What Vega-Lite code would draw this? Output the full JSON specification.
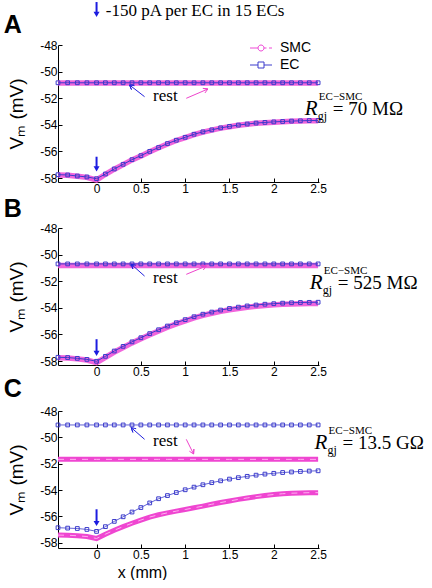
{
 "$schema": "https://vega.github.io/schema/vega-lite/v6.json",
 "padding": {"left": 3, "top": 1, "right": 0, "bottom": 0},
 "background": "white",
 "datasets": {
  "curves": [
   {"p":"A","x":-0.435,"ec":-57.75,"smc":-57.77,"ecr":-50.84,"smcr":-50.86},
   {"p":"A","x":-0.326,"ec":-57.77,"smc":-57.79,"ecr":-50.84,"smcr":-50.86},
   {"p":"A","x":-0.217,"ec":-57.85,"smc":-57.87,"ecr":-50.84,"smcr":-50.86},
   {"p":"A","x":-0.109,"ec":-57.92,"smc":-57.95,"ecr":-50.84,"smcr":-50.86},
   {"p":"A","x":0,"ec":-58.05,"smc":-58.15,"ecr":-50.84,"smcr":-50.86},
   {"p":"A","x":0.1,"ec":-57.7,"smc":-57.72,"ecr":-50.84,"smcr":-50.86},
   {"p":"A","x":0.2,"ec":-57.32,"smc":-57.34,"ecr":-50.84,"smcr":-50.86},
   {"p":"A","x":0.3,"ec":-56.97,"smc":-56.99,"ecr":-50.84,"smcr":-50.86},
   {"p":"A","x":0.4,"ec":-56.62,"smc":-56.64,"ecr":-50.84,"smcr":-50.86},
   {"p":"A","x":0.5,"ec":-56.32,"smc":-56.34,"ecr":-50.84,"smcr":-50.86},
   {"p":"A","x":0.6,"ec":-56.0,"smc":-56.02,"ecr":-50.84,"smcr":-50.86},
   {"p":"A","x":0.7,"ec":-55.71,"smc":-55.73,"ecr":-50.84,"smcr":-50.86},
   {"p":"A","x":0.8,"ec":-55.41,"smc":-55.44,"ecr":-50.84,"smcr":-50.86},
   {"p":"A","x":0.9,"ec":-55.16,"smc":-55.18,"ecr":-50.84,"smcr":-50.86},
   {"p":"A","x":1.0,"ec":-54.94,"smc":-54.96,"ecr":-50.84,"smcr":-50.86},
   {"p":"A","x":1.1,"ec":-54.71,"smc":-54.74,"ecr":-50.84,"smcr":-50.86},
   {"p":"A","x":1.2,"ec":-54.53,"smc":-54.55,"ecr":-50.84,"smcr":-50.86},
   {"p":"A","x":1.3,"ec":-54.38,"smc":-54.4,"ecr":-50.84,"smcr":-50.86},
   {"p":"A","x":1.4,"ec":-54.23,"smc":-54.25,"ecr":-50.84,"smcr":-50.86},
   {"p":"A","x":1.5,"ec":-54.12,"smc":-54.14,"ecr":-50.84,"smcr":-50.86},
   {"p":"A","x":1.6,"ec":-54.02,"smc":-54.04,"ecr":-50.84,"smcr":-50.86},
   {"p":"A","x":1.7,"ec":-53.94,"smc":-53.96,"ecr":-50.84,"smcr":-50.86},
   {"p":"A","x":1.8,"ec":-53.87,"smc":-53.89,"ecr":-50.84,"smcr":-50.86},
   {"p":"A","x":1.9,"ec":-53.82,"smc":-53.84,"ecr":-50.84,"smcr":-50.86},
   {"p":"A","x":2.0,"ec":-53.78,"smc":-53.8,"ecr":-50.84,"smcr":-50.86},
   {"p":"A","x":2.1,"ec":-53.75,"smc":-53.77,"ecr":-50.84,"smcr":-50.86},
   {"p":"A","x":2.2,"ec":-53.72,"smc":-53.74,"ecr":-50.84,"smcr":-50.86},
   {"p":"A","x":2.3,"ec":-53.7,"smc":-53.72,"ecr":-50.84,"smcr":-50.86},
   {"p":"A","x":2.4,"ec":-53.68,"smc":-53.7,"ecr":-50.84,"smcr":-50.86},
   {"p":"A","x":2.5,"ec":-53.67,"smc":-53.69,"ecr":-50.84,"smcr":-50.86},
   {"p":"B","x":-0.435,"ec":-57.72,"smc":-57.76,"ecr":-50.7,"smcr":-50.82},
   {"p":"B","x":-0.326,"ec":-57.74,"smc":-57.78,"ecr":-50.7,"smcr":-50.82},
   {"p":"B","x":-0.217,"ec":-57.8,"smc":-57.84,"ecr":-50.7,"smcr":-50.82},
   {"p":"B","x":-0.109,"ec":-57.88,"smc":-57.93,"ecr":-50.7,"smcr":-50.82},
   {"p":"B","x":0,"ec":-58.02,"smc":-58.12,"ecr":-50.7,"smcr":-50.82},
   {"p":"B","x":0.1,"ec":-57.65,"smc":-57.72,"ecr":-50.7,"smcr":-50.82},
   {"p":"B","x":0.2,"ec":-57.25,"smc":-57.33,"ecr":-50.7,"smcr":-50.82},
   {"p":"B","x":0.3,"ec":-56.9,"smc":-56.98,"ecr":-50.7,"smcr":-50.82},
   {"p":"B","x":0.4,"ec":-56.56,"smc":-56.64,"ecr":-50.7,"smcr":-50.82},
   {"p":"B","x":0.5,"ec":-56.25,"smc":-56.33,"ecr":-50.7,"smcr":-50.82},
   {"p":"B","x":0.6,"ec":-55.94,"smc":-56.03,"ecr":-50.7,"smcr":-50.82},
   {"p":"B","x":0.7,"ec":-55.65,"smc":-55.74,"ecr":-50.7,"smcr":-50.82},
   {"p":"B","x":0.8,"ec":-55.37,"smc":-55.46,"ecr":-50.7,"smcr":-50.82},
   {"p":"B","x":0.9,"ec":-55.12,"smc":-55.21,"ecr":-50.7,"smcr":-50.82},
   {"p":"B","x":1.0,"ec":-54.89,"smc":-54.98,"ecr":-50.7,"smcr":-50.82},
   {"p":"B","x":1.1,"ec":-54.67,"smc":-54.76,"ecr":-50.7,"smcr":-50.82},
   {"p":"B","x":1.2,"ec":-54.48,"smc":-54.57,"ecr":-50.7,"smcr":-50.82},
   {"p":"B","x":1.3,"ec":-54.32,"smc":-54.41,"ecr":-50.7,"smcr":-50.82},
   {"p":"B","x":1.4,"ec":-54.17,"smc":-54.27,"ecr":-50.7,"smcr":-50.82},
   {"p":"B","x":1.5,"ec":-54.05,"smc":-54.15,"ecr":-50.7,"smcr":-50.82},
   {"p":"B","x":1.6,"ec":-53.95,"smc":-54.05,"ecr":-50.7,"smcr":-50.82},
   {"p":"B","x":1.7,"ec":-53.86,"smc":-53.96,"ecr":-50.7,"smcr":-50.82},
   {"p":"B","x":1.8,"ec":-53.79,"smc":-53.89,"ecr":-50.7,"smcr":-50.82},
   {"p":"B","x":1.9,"ec":-53.73,"smc":-53.83,"ecr":-50.7,"smcr":-50.82},
   {"p":"B","x":2.0,"ec":-53.69,"smc":-53.78,"ecr":-50.7,"smcr":-50.82},
   {"p":"B","x":2.1,"ec":-53.65,"smc":-53.74,"ecr":-50.7,"smcr":-50.82},
   {"p":"B","x":2.2,"ec":-53.62,"smc":-53.71,"ecr":-50.7,"smcr":-50.82},
   {"p":"B","x":2.3,"ec":-53.6,"smc":-53.69,"ecr":-50.7,"smcr":-50.82},
   {"p":"B","x":2.4,"ec":-53.59,"smc":-53.68,"ecr":-50.7,"smcr":-50.82},
   {"p":"B","x":2.5,"ec":-53.58,"smc":-53.68,"ecr":-50.7,"smcr":-50.82},
   {"p":"C","x":-0.435,"ec":-56.86,"smc":-57.42,"ecr":-49.06,"smcr":-51.67},
   {"p":"C","x":-0.326,"ec":-56.89,"smc":-57.43,"ecr":-49.06,"smcr":-51.67},
   {"p":"C","x":-0.217,"ec":-56.92,"smc":-57.47,"ecr":-49.06,"smcr":-51.67},
   {"p":"C","x":-0.109,"ec":-56.99,"smc":-57.53,"ecr":-49.06,"smcr":-51.67},
   {"p":"C","x":0,"ec":-57.14,"smc":-57.68,"ecr":-49.06,"smcr":-51.67},
   {"p":"C","x":0.1,"ec":-56.78,"smc":-57.35,"ecr":-49.06,"smcr":-51.67},
   {"p":"C","x":0.2,"ec":-56.38,"smc":-57.05,"ecr":-49.06,"smcr":-51.67},
   {"p":"C","x":0.3,"ec":-56.03,"smc":-56.78,"ecr":-49.06,"smcr":-51.67},
   {"p":"C","x":0.4,"ec":-55.67,"smc":-56.52,"ecr":-49.06,"smcr":-51.67},
   {"p":"C","x":0.5,"ec":-55.33,"smc":-56.28,"ecr":-49.06,"smcr":-51.67},
   {"p":"C","x":0.6,"ec":-54.98,"smc":-56.05,"ecr":-49.06,"smcr":-51.67},
   {"p":"C","x":0.7,"ec":-54.66,"smc":-55.88,"ecr":-49.06,"smcr":-51.67},
   {"p":"C","x":0.8,"ec":-54.42,"smc":-55.73,"ecr":-49.06,"smcr":-51.67},
   {"p":"C","x":0.9,"ec":-54.19,"smc":-55.6,"ecr":-49.06,"smcr":-51.67},
   {"p":"C","x":1.0,"ec":-53.98,"smc":-55.48,"ecr":-49.06,"smcr":-51.67},
   {"p":"C","x":1.1,"ec":-53.78,"smc":-55.35,"ecr":-49.06,"smcr":-51.67},
   {"p":"C","x":1.2,"ec":-53.6,"smc":-55.22,"ecr":-49.06,"smcr":-51.67},
   {"p":"C","x":1.3,"ec":-53.44,"smc":-55.08,"ecr":-49.06,"smcr":-51.67},
   {"p":"C","x":1.4,"ec":-53.3,"smc":-54.95,"ecr":-49.06,"smcr":-51.67},
   {"p":"C","x":1.5,"ec":-53.17,"smc":-54.83,"ecr":-49.06,"smcr":-51.67},
   {"p":"C","x":1.6,"ec":-53.06,"smc":-54.71,"ecr":-49.06,"smcr":-51.67},
   {"p":"C","x":1.7,"ec":-52.96,"smc":-54.6,"ecr":-49.06,"smcr":-51.67},
   {"p":"C","x":1.8,"ec":-52.87,"smc":-54.5,"ecr":-49.06,"smcr":-51.67},
   {"p":"C","x":1.9,"ec":-52.79,"smc":-54.41,"ecr":-49.06,"smcr":-51.67},
   {"p":"C","x":2.0,"ec":-52.73,"smc":-54.34,"ecr":-49.06,"smcr":-51.67},
   {"p":"C","x":2.1,"ec":-52.67,"smc":-54.28,"ecr":-49.06,"smcr":-51.67},
   {"p":"C","x":2.2,"ec":-52.63,"smc":-54.24,"ecr":-49.06,"smcr":-51.67},
   {"p":"C","x":2.3,"ec":-52.59,"smc":-54.22,"ecr":-49.06,"smcr":-51.67},
   {"p":"C","x":2.4,"ec":-52.56,"smc":-54.2,"ecr":-49.06,"smcr":-51.67},
   {"p":"C","x":2.5,"ec":-52.54,"smc":-54.2,"ecr":-49.06,"smcr":-51.67}
  ],
  "ann": [
   {"p":"A","k":"letter","x":-1.046,"v":-47.1,"t":"A"},
   {"p":"A","k":"rest","x":0.776,"v":-52.21,"t":"rest"},
   {"p":"A","k":"R","x":2.35,"v":-53.26,"t":"= 70 MΩ"},
   {"p":"A","k":"top","x":0.105,"v":-45.82,"t":"-150 pA per EC in 15 ECs"},
   {"p":"A","k":"stim","x":0,"v":-56.4,"v2":-57.31},
   {"p":"A","k":"head","x":0,"v":-57.31},
   {"p":"A","k":"stim","x":0,"v":-44.77,"v2":-45.7},
   {"p":"A","k":"head","x":0,"v":-45.7},
   {"p":"A","k":"arrEC","o":1,"x":0.5418,"v":-51.887},
   {"p":"A","k":"arrEC","o":2,"x":0.3725,"v":-51.008},
   {"p":"A","k":"arrEC","o":3,"x":0.3939,"v":-51.353},
   {"p":"A","k":"arrEC","o":4,"x":0.3725,"v":-51.008},
   {"p":"A","k":"arrEC","o":5,"x":0.4289,"v":-51.06},
   {"p":"A","k":"arrSMC","o":1,"x":1.0124,"v":-52.008},
   {"p":"A","k":"arrSMC","o":2,"x":1.2562,"v":-51.308},
   {"p":"A","k":"arrSMC","o":3,"x":1.2,"v":-51.263},
   {"p":"A","k":"arrSMC","o":4,"x":1.2562,"v":-51.308},
   {"p":"A","k":"arrSMC","o":5,"x":1.2223,"v":-51.609},
   {"p":"B","k":"letter","x":-1.046,"v":-47.17,"t":"B"},
   {"p":"B","k":"rest","x":0.776,"v":-52.15,"t":"rest"},
   {"p":"B","k":"R","x":2.406,"v":-52.62,"t":"= 525 MΩ"},
   {"p":"B","k":"stim","x":0,"v":-56.36,"v2":-57.43},
   {"p":"B","k":"head","x":0,"v":-57.43},
   {"p":"B","k":"arrEC","o":1,"x":0.5418,"v":-51.614},
   {"p":"B","k":"arrEC","o":2,"x":0.3917,"v":-50.727},
   {"p":"B","k":"arrEC","o":3,"x":0.4097,"v":-51.083},
   {"p":"B","k":"arrEC","o":4,"x":0.3917,"v":-50.727},
   {"p":"B","k":"arrEC","o":5,"x":0.447,"v":-50.803},
   {"p":"B","k":"arrSMC","o":1,"x":1.0124,"v":-51.485},
   {"p":"B","k":"arrSMC","o":2,"x":1.2381,"v":-50.856},
   {"p":"B","k":"arrSMC","o":3,"x":1.1817,"v":-50.807},
   {"p":"B","k":"arrSMC","o":4,"x":1.2381,"v":-50.856},
   {"p":"B","k":"arrSMC","o":5,"x":1.2043,"v":-51.157},
   {"p":"C","k":"letter","x":-1.046,"v":-46.9,"t":"C"},
   {"p":"C","k":"rest","x":0.776,"v":-50.66,"t":"rest"},
   {"p":"C","k":"R","x":2.46,"v":-50.89,"t":"= 13.5 GΩ"},
   {"p":"C","k":"stim","x":0,"v":-55.46,"v2":-56.54},
   {"p":"C","k":"head","x":0,"v":-56.54},
   {"p":"C","k":"arrEC","o":1,"x":0.5418,"v":-50.149},
   {"p":"C","k":"arrEC","o":2,"x":0.3917,"v":-49.268},
   {"p":"C","k":"arrEC","o":3,"x":0.4097,"v":-49.625},
   {"p":"C","k":"arrEC","o":4,"x":0.3917,"v":-49.268},
   {"p":"C","k":"arrEC","o":5,"x":0.447,"v":-49.344},
   {"p":"C","k":"arrSMC","o":1,"x":1.0124,"v":-50.149},
   {"p":"C","k":"arrSMC","o":2,"x":1.0948,"v":-51.265},
   {"p":"C","k":"arrSMC","o":3,"x":1.0982,"v":-50.885},
   {"p":"C","k":"arrSMC","o":4,"x":1.0948,"v":-51.265},
   {"p":"C","k":"arrSMC","o":5,"x":1.0474,"v":-51.052}
  ]
 },
 "vconcat": [
  {
   "width": 261, "height": 137,
   "encoding": {
    "x": {"field": "x", "type": "quantitative", "scale": {"domain": [-0.435, 2.51], "nice": false, "zero": false}, "axis": {"values": [0, 0.5, 1, 1.5, 2, 2.5], "labelExpr": "'' + datum.value", "title": null}},
    "y": {"field": "v", "type": "quantitative", "scale": {"domain": [-58.3, -48], "nice": false, "zero": false}, "axis": {"values": [-58, -56, -54, -52, -50, -48], "labelExpr": "'' + datum.value", "title": "Vₘ (mV)"}}
   },
   "layer": [
    {"data": {"name": "curves"}, "transform": [{"filter": "datum.p=='A'"}, {"fold": ["smc", "smcr"], "as": ["key", "v"]}], "mark": {"type": "line", "color": "#ee4ad6", "strokeWidth": 5.5, "opacity": 0.85}, "encoding": {"detail": {"field": "key", "type": "nominal"}}},
    {"data": {"name": "curves"}, "transform": [{"filter": "datum.p=='A'"}, {"fold": ["ec", "ecr"], "as": ["key", "v"]}], "mark": {"type": "line", "color": "#3c3ccc", "strokeWidth": 1}, "encoding": {"detail": {"field": "key", "type": "nominal"}}},
    {"data": {"name": "curves"}, "transform": [{"filter": "datum.p=='A'"}, {"fold": ["ec", "ecr"], "as": ["key", "v"]}], "mark": {"type": "point", "shape": "square", "filled": false, "size": 14, "color": "#3c3ccc", "strokeWidth": 1, "opacity": 1}},
    {"data": {"name": "ann"}, "transform": [{"filter": "datum.p=='A' && datum.k=='stim'"}], "mark": {"type": "rule", "color": "#1c1ce0", "strokeWidth": 2}, "encoding": {"y2": {"field": "v2"}}},
    {"data": {"name": "ann"}, "transform": [{"filter": "datum.p=='A' && datum.k=='head'"}], "mark": {"type": "point", "shape": "triangle-down", "filled": true, "size": 36, "color": "#1c1ce0", "opacity": 1}},
    {"data": {"name": "ann"}, "transform": [{"filter": "datum.p=='A' && datum.k=='arrEC'"}], "mark": {"type": "line", "color": "#2222dd", "strokeWidth": 1}, "encoding": {"order": {"field": "o"}}},
    {"data": {"name": "ann"}, "transform": [{"filter": "datum.p=='A' && datum.k=='arrSMC'"}], "mark": {"type": "line", "color": "#ee44cc", "strokeWidth": 1}, "encoding": {"order": {"field": "o"}}},
    {"data": {"name": "ann"}, "transform": [{"filter": "datum.p=='A' && datum.k=='rest'"}], "mark": {"type": "text", "font": "Liberation Serif", "fontSize": 17, "align": "center", "baseline": "alphabetic", "color": "#000"}, "encoding": {"text": {"field": "t"}}},
    {"data": {"name": "ann"}, "transform": [{"filter": "datum.p=='A' && datum.k=='top'"}], "mark": {"type": "text", "font": "Liberation Serif", "fontSize": 17, "align": "left", "baseline": "alphabetic", "color": "#000"}, "encoding": {"text": {"field": "t"}}},
    {"data": {"name": "ann"}, "transform": [{"filter": "datum.p=='A' && datum.k=='letter'"}], "mark": {"type": "text", "font": "Liberation Sans", "fontWeight": "bold", "fontSize": 25, "align": "left", "baseline": "alphabetic", "color": "#000"}, "encoding": {"text": {"field": "t"}}},
    {"data": {"name": "ann"}, "transform": [{"filter": "datum.p=='A' && datum.k=='R'"}], "mark": {"type": "text", "text": "R", "font": "Liberation Serif", "fontStyle": "italic", "fontSize": 21, "align": "left", "baseline": "alphabetic", "color": "#000"}},
    {"data": {"name": "ann"}, "transform": [{"filter": "datum.p=='A' && datum.k=='R'"}], "mark": {"type": "text", "text": "gj", "font": "Liberation Serif", "fontSize": 12, "align": "left", "baseline": "alphabetic", "dx": 13, "dy": 5, "color": "#000"}},
    {"data": {"name": "ann"}, "transform": [{"filter": "datum.p=='A' && datum.k=='R'"}], "mark": {"type": "text", "text": "EC−SMC", "font": "Liberation Serif", "fontSize": 11, "align": "left", "baseline": "alphabetic", "dx": 14, "dy": -15, "color": "#000"}},
    {"data": {"name": "ann"}, "transform": [{"filter": "datum.p=='A' && datum.k=='R'"}], "mark": {"type": "text", "font": "Liberation Serif", "fontSize": 19, "align": "left", "baseline": "alphabetic", "dx": 28, "color": "#000"}, "encoding": {"text": {"field": "t"}}},
    {"data": {"name": "curves"}, "transform": [{"filter": "false"}], "mark": {"type": "point", "filled": false, "strokeWidth": 1, "opacity": 1},
     "encoding": {
      "color": {"field": "s", "type": "nominal", "scale": {"domain": ["SMC", "EC"], "range": ["#ee4ad6", "#3c3ccc"]}, "legend": {"orient": "none", "legendX": 196, "legendY": -4}},
      "shape": {"field": "s", "type": "nominal", "scale": {"domain": ["SMC", "EC"], "range": ["M-2.2,0H-0.6M0.6,0H1.1M1.6,0H2.2M0.6,0A0.6,0.6,0,1,1,-0.6,0A0.6,0.6,0,1,1,0.6,0", "M-2.2,0H-0.6M0.6,0H2.2M-0.6,-0.6H0.6V0.6H-0.6Z"]}, "legend": {"orient": "none", "legendX": 196, "legendY": -4}}
     }}
   ]
  },
  {
   "width": 261, "height": 137,
   "encoding": {
    "x": {"field": "x", "type": "quantitative", "scale": {"domain": [-0.435, 2.51], "nice": false, "zero": false}, "axis": {"values": [0, 0.5, 1, 1.5, 2, 2.5], "labelExpr": "'' + datum.value", "title": null}},
    "y": {"field": "v", "type": "quantitative", "scale": {"domain": [-58.3, -48], "nice": false, "zero": false}, "axis": {"values": [-58, -56, -54, -52, -50, -48], "labelExpr": "'' + datum.value", "title": "Vₘ (mV)"}}
   },
   "layer": [
    {"data": {"name": "curves"}, "transform": [{"filter": "datum.p=='B'"}, {"fold": ["smc", "smcr"], "as": ["key", "v"]}], "mark": {"type": "line", "color": "#ee4ad6", "strokeWidth": 5.5, "opacity": 0.85}, "encoding": {"detail": {"field": "key", "type": "nominal"}}},
    {"data": {"name": "curves"}, "transform": [{"filter": "datum.p=='B'"}, {"fold": ["ec", "ecr"], "as": ["key", "v"]}], "mark": {"type": "line", "color": "#3c3ccc", "strokeWidth": 1}, "encoding": {"detail": {"field": "key", "type": "nominal"}}},
    {"data": {"name": "curves"}, "transform": [{"filter": "datum.p=='B'"}, {"fold": ["ec", "ecr"], "as": ["key", "v"]}], "mark": {"type": "point", "shape": "square", "filled": false, "size": 14, "color": "#3c3ccc", "strokeWidth": 1, "opacity": 1}},
    {"data": {"name": "ann"}, "transform": [{"filter": "datum.p=='B' && datum.k=='stim'"}], "mark": {"type": "rule", "color": "#1c1ce0", "strokeWidth": 2}, "encoding": {"y2": {"field": "v2"}}},
    {"data": {"name": "ann"}, "transform": [{"filter": "datum.p=='B' && datum.k=='head'"}], "mark": {"type": "point", "shape": "triangle-down", "filled": true, "size": 36, "color": "#1c1ce0", "opacity": 1}},
    {"data": {"name": "ann"}, "transform": [{"filter": "datum.p=='B' && datum.k=='arrEC'"}], "mark": {"type": "line", "color": "#2222dd", "strokeWidth": 1}, "encoding": {"order": {"field": "o"}}},
    {"data": {"name": "ann"}, "transform": [{"filter": "datum.p=='B' && datum.k=='arrSMC'"}], "mark": {"type": "line", "color": "#ee44cc", "strokeWidth": 1}, "encoding": {"order": {"field": "o"}}},
    {"data": {"name": "ann"}, "transform": [{"filter": "datum.p=='B' && datum.k=='rest'"}], "mark": {"type": "text", "font": "Liberation Serif", "fontSize": 17, "align": "center", "baseline": "alphabetic", "color": "#000"}, "encoding": {"text": {"field": "t"}}},
    {"data": {"name": "ann"}, "transform": [{"filter": "datum.p=='B' && datum.k=='letter'"}], "mark": {"type": "text", "font": "Liberation Sans", "fontWeight": "bold", "fontSize": 25, "align": "left", "baseline": "alphabetic", "color": "#000"}, "encoding": {"text": {"field": "t"}}},
    {"data": {"name": "ann"}, "transform": [{"filter": "datum.p=='B' && datum.k=='R'"}], "mark": {"type": "text", "text": "R", "font": "Liberation Serif", "fontStyle": "italic", "fontSize": 21, "align": "left", "baseline": "alphabetic", "color": "#000"}},
    {"data": {"name": "ann"}, "transform": [{"filter": "datum.p=='B' && datum.k=='R'"}], "mark": {"type": "text", "text": "gj", "font": "Liberation Serif", "fontSize": 12, "align": "left", "baseline": "alphabetic", "dx": 13, "dy": 5, "color": "#000"}},
    {"data": {"name": "ann"}, "transform": [{"filter": "datum.p=='B' && datum.k=='R'"}], "mark": {"type": "text", "text": "EC−SMC", "font": "Liberation Serif", "fontSize": 11, "align": "left", "baseline": "alphabetic", "dx": 14, "dy": -15, "color": "#000"}},
    {"data": {"name": "ann"}, "transform": [{"filter": "datum.p=='B' && datum.k=='R'"}], "mark": {"type": "text", "font": "Liberation Serif", "fontSize": 19, "align": "left", "baseline": "alphabetic", "dx": 28, "color": "#000"}, "encoding": {"text": {"field": "t"}}}
   ]
  },
  {
   "width": 261, "height": 137,
   "encoding": {
    "x": {"field": "x", "type": "quantitative", "scale": {"domain": [-0.435, 2.51], "nice": false, "zero": false}, "axis": {"values": [0, 0.5, 1, 1.5, 2, 2.5], "labelExpr": "'' + datum.value", "title": "x (mm)", "titleX": 84}},
    "y": {"field": "v", "type": "quantitative", "scale": {"domain": [-58.4, -48], "nice": false, "zero": false}, "axis": {"values": [-58, -56, -54, -52, -50, -48], "labelExpr": "'' + datum.value", "title": "Vₘ (mV)"}}
   },
   "layer": [
    {"data": {"name": "curves"}, "transform": [{"filter": "datum.p=='C'"}, {"fold": ["smc", "smcr"], "as": ["key", "v"]}], "mark": {"type": "line", "color": "#ee3ccf", "strokeWidth": 5, "opacity": 0.95}, "encoding": {"detail": {"field": "key", "type": "nominal"}}},
    {"data": {"name": "curves"}, "transform": [{"filter": "datum.p=='C'"}, {"fold": ["smc", "smcr"], "as": ["key", "v"]}], "mark": {"type": "line", "color": "#ffb0f0", "strokeWidth": 1, "strokeDash": [6, 6]}, "encoding": {"detail": {"field": "key", "type": "nominal"}}},
    {"data": {"name": "curves"}, "transform": [{"filter": "datum.p=='C'"}, {"fold": ["ec", "ecr"], "as": ["key", "v"]}], "mark": {"type": "line", "color": "#3c3ccc", "strokeWidth": 1, "opacity": 0.8}, "encoding": {"detail": {"field": "key", "type": "nominal"}}},
    {"data": {"name": "curves"}, "transform": [{"filter": "datum.p=='C'"}, {"fold": ["ec", "ecr"], "as": ["key", "v"]}], "mark": {"type": "point", "shape": "square", "filled": false, "size": 14, "color": "#3c3ccc", "strokeWidth": 1, "opacity": 1}},
    {"data": {"name": "ann"}, "transform": [{"filter": "datum.p=='C' && datum.k=='stim'"}], "mark": {"type": "rule", "color": "#1c1ce0", "strokeWidth": 2}, "encoding": {"y2": {"field": "v2"}}},
    {"data": {"name": "ann"}, "transform": [{"filter": "datum.p=='C' && datum.k=='head'"}], "mark": {"type": "point", "shape": "triangle-down", "filled": true, "size": 36, "color": "#1c1ce0", "opacity": 1}},
    {"data": {"name": "ann"}, "transform": [{"filter": "datum.p=='C' && datum.k=='arrEC'"}], "mark": {"type": "line", "color": "#2222dd", "strokeWidth": 1}, "encoding": {"order": {"field": "o"}}},
    {"data": {"name": "ann"}, "transform": [{"filter": "datum.p=='C' && datum.k=='arrSMC'"}], "mark": {"type": "line", "color": "#ee44cc", "strokeWidth": 1}, "encoding": {"order": {"field": "o"}}},
    {"data": {"name": "ann"}, "transform": [{"filter": "datum.p=='C' && datum.k=='rest'"}], "mark": {"type": "text", "font": "Liberation Serif", "fontSize": 17, "align": "center", "baseline": "alphabetic", "color": "#000"}, "encoding": {"text": {"field": "t"}}},
    {"data": {"name": "ann"}, "transform": [{"filter": "datum.p=='C' && datum.k=='letter'"}], "mark": {"type": "text", "font": "Liberation Sans", "fontWeight": "bold", "fontSize": 25, "align": "left", "baseline": "alphabetic", "color": "#000"}, "encoding": {"text": {"field": "t"}}},
    {"data": {"name": "ann"}, "transform": [{"filter": "datum.p=='C' && datum.k=='R'"}], "mark": {"type": "text", "text": "R", "font": "Liberation Serif", "fontStyle": "italic", "fontSize": 21, "align": "left", "baseline": "alphabetic", "color": "#000"}},
    {"data": {"name": "ann"}, "transform": [{"filter": "datum.p=='C' && datum.k=='R'"}], "mark": {"type": "text", "text": "gj", "font": "Liberation Serif", "fontSize": 12, "align": "left", "baseline": "alphabetic", "dx": 13, "dy": 5, "color": "#000"}},
    {"data": {"name": "ann"}, "transform": [{"filter": "datum.p=='C' && datum.k=='R'"}], "mark": {"type": "text", "text": "EC−SMC", "font": "Liberation Serif", "fontSize": 11, "align": "left", "baseline": "alphabetic", "dx": 14, "dy": -15, "color": "#000"}},
    {"data": {"name": "ann"}, "transform": [{"filter": "datum.p=='C' && datum.k=='R'"}], "mark": {"type": "text", "font": "Liberation Serif", "fontSize": 19, "align": "left", "baseline": "alphabetic", "dx": 28, "color": "#000"}, "encoding": {"text": {"field": "t"}}}
   ]
  }
 ],
 "spacing": 46,
 "bounds": "flush",
 "resolve": {"scale": {"color": "independent", "shape": "independent"}, "legend": {"color": "independent", "shape": "independent"}},
 "config": {
  "view": {"stroke": null},
  "axis": {"grid": false, "domainColor": "#000", "tickColor": "#000", "labelColor": "#000", "titleColor": "#000", "labelFont": "Liberation Sans", "labelFontSize": 12, "titleFont": "Liberation Sans", "titleFontSize": 16, "titleFontWeight": "normal", "tickSize": -4, "labelPadding": 5, "labelFlush": false, "labelOverlap": false, "domainWidth": 1, "tickWidth": 1},
  "axisY": {"titlePadding": 13, "titleFontSize": 19},
  "legend": {"title": null, "labelFont": "Liberation Sans", "labelFontSize": 14, "labelColor": "#000", "labelOffset": 12, "symbolSize": 100, "symbolStrokeWidth": 1, "padding": 0, "rowPadding": 3}
 }
}
